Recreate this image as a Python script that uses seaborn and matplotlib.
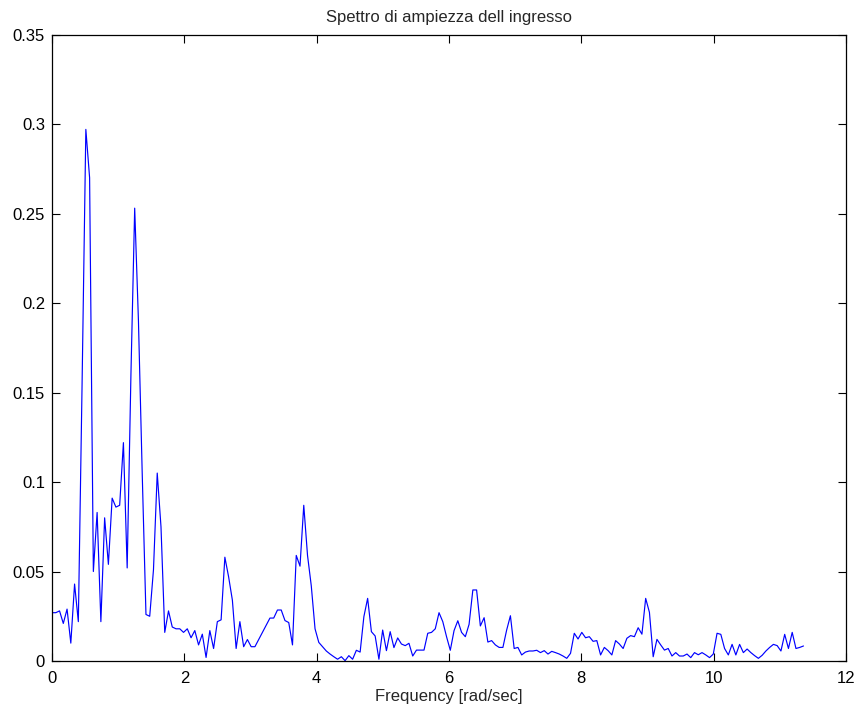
import numpy as np
import pandas as pd
import seaborn as sns
import matplotlib
matplotlib.use("Agg")
import matplotlib.pyplot as plt
from matplotlib.ticker import FormatStrFormatter

# frequency grid step (rad/sec) and amplitude spectrum
freq_step = 0.0568
amplitude = [
    0.027, 0.027, 0.028, 0.021, 0.029, 0.010, 0.043, 0.022, 0.155, 0.297,
    0.270, 0.050, 0.083, 0.022, 0.080, 0.054, 0.091, 0.086, 0.087, 0.122,
    0.052, 0.160, 0.253, 0.190, 0.105, 0.026, 0.025, 0.051, 0.105, 0.075,
    0.016, 0.028, 0.019, 0.018, 0.018, 0.016, 0.018, 0.013, 0.017, 0.009,
    0.015, 0.002, 0.017, 0.007, 0.022, 0.023, 0.058, 0.047, 0.034, 0.007,
    0.022, 0.008, 0.012, 0.008, 0.008, 0.012, 0.016, 0.020, 0.024, 0.024,
    0.0285, 0.0285, 0.0226, 0.0215, 0.009, 0.059, 0.053, 0.087, 0.059, 0.042,
    0.018, 0.0104, 0.008, 0.0056, 0.0039, 0.0024, 0.001, 0.0024, 0.0002, 0.003,
    0.001, 0.006, 0.005, 0.0248, 0.035, 0.0164, 0.014, 0.001, 0.0173, 0.0058,
    0.0164, 0.0075, 0.0129, 0.0095, 0.0086, 0.0099, 0.0028, 0.0061, 0.0061, 0.0061,
    0.0155, 0.016, 0.018, 0.027, 0.022, 0.0136, 0.006, 0.017, 0.0225, 0.016,
    0.0136, 0.0205, 0.0397, 0.0397, 0.0196, 0.0242, 0.0106, 0.0114, 0.009, 0.0076,
    0.0076, 0.0173, 0.0253, 0.007, 0.0076, 0.0034, 0.005, 0.0056, 0.0056, 0.006,
    0.0047, 0.0058, 0.0039, 0.0054, 0.0047, 0.0039, 0.0028, 0.0015, 0.0043, 0.0155,
    0.0123, 0.016, 0.013, 0.0136, 0.011, 0.0114, 0.0034, 0.0076, 0.0058, 0.0034,
    0.0114, 0.0095, 0.007, 0.0127, 0.0142, 0.0136, 0.0186, 0.015, 0.035, 0.0272,
    0.0024, 0.0121, 0.009, 0.0061, 0.007, 0.0028, 0.0047, 0.0028, 0.0028, 0.0039,
    0.0019, 0.0047, 0.0035, 0.0047, 0.0034, 0.0019, 0.0039, 0.0155, 0.0149, 0.007,
    0.0034, 0.0093, 0.0034, 0.0093, 0.0047, 0.0067, 0.0047, 0.003, 0.0015, 0.0032,
    0.0056, 0.0076, 0.0093, 0.0086, 0.0056, 0.0149, 0.007, 0.016, 0.007, 0.0076,
    0.0084,
]
x_ticks = [0, 2, 4, 6, 8, 10, 12]
y_ticks = [0, 0.05, 0.1, 0.15, 0.2, 0.25, 0.3, 0.35]

df = pd.DataFrame({"freq": np.arange(len(amplitude)) * freq_step,
                   "amp": amplitude})

sns.set_style("ticks")
plt.rcParams["font.family"] = ["Liberation Sans", "DejaVu Sans"]
plt.rcParams["xtick.direction"] = "in"
plt.rcParams["ytick.direction"] = "in"

fig = plt.figure(figsize=(8.6, 7.12), dpi=100)
ax = fig.add_axes([0.0605, 0.0716, 0.923, 0.8799])

sns.lineplot(data=df, x="freq", y="amp", color="#0000ff", linewidth=0.85, ax=ax)

ax.set_xlim(0, 12)
ax.set_ylim(0, 0.35)
ax.set_xticks(x_ticks)
ax.set_yticks(y_ticks)
ax.yaxis.set_major_formatter(FormatStrFormatter("%g"))
ax.tick_params(axis="both", which="both", direction="in", length=6, width=0.8,
               labelsize=12, top=True, right=True, color="black", labelcolor="black")
ax.tick_params(axis="x", pad=7)
ax.tick_params(axis="y", pad=5)
for s in ax.spines.values():
    s.set_visible(True)
    s.set_linewidth(0.9)
    s.set_color("black")

ax.set_title("Spettro di ampiezza dell ingresso", fontsize=12, pad=9)
ax.set_xlabel("Frequency [rad/sec]", fontsize=12, labelpad=2)
ax.set_ylabel("")

plt.savefig("out.png", dpi=100)
plt.close()
